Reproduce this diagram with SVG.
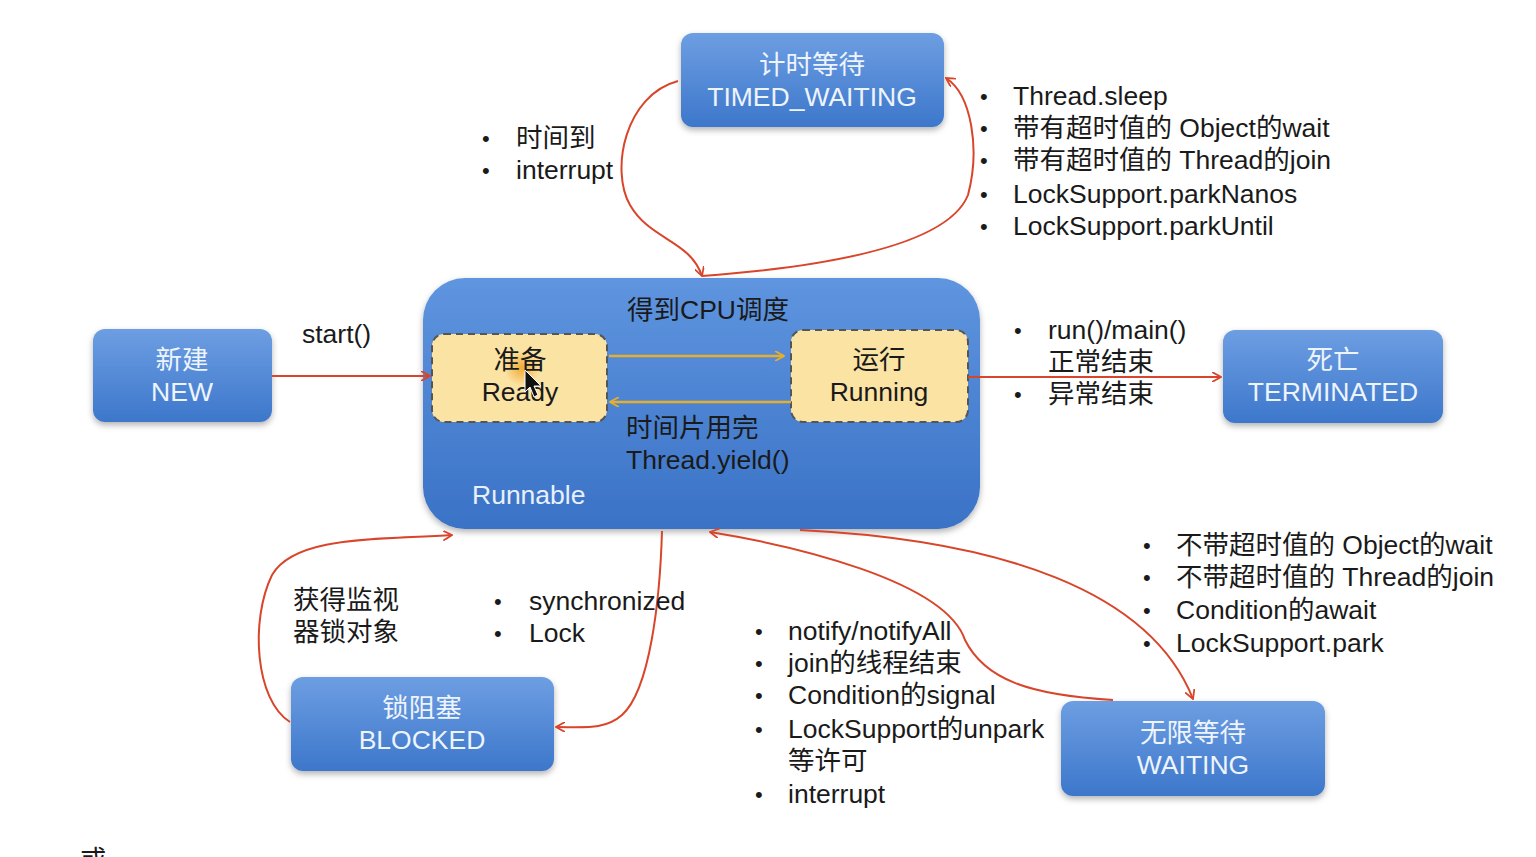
<svg xmlns="http://www.w3.org/2000/svg" width="1536" height="857" viewBox="0 0 1536 857">
<defs>
<linearGradient id="blueG" x1="0" y1="0" x2="0" y2="1">
<stop offset="0" stop-color="#6d9ee2"/>
<stop offset="1" stop-color="#3d77cb"/>
</linearGradient>
<linearGradient id="bigG" x1="0" y1="0" x2="0" y2="1">
<stop offset="0" stop-color="#5f95df"/>
<stop offset="1" stop-color="#3a72c6"/>
</linearGradient>
<filter id="sh" x="-10%" y="-10%" width="120%" height="130%">
<feDropShadow dx="0" dy="3" stdDeviation="3" flood-color="#000" flood-opacity="0.3"/>
</filter>
<radialGradient id="halo">
<stop offset="0" stop-color="#f0a020" stop-opacity="0.85"/>
<stop offset="1" stop-color="#f0a020" stop-opacity="0"/>
</radialGradient>
<marker id="ar" viewBox="0 0 10 10" refX="9" refY="5" markerWidth="10" markerHeight="10" markerUnits="userSpaceOnUse" orient="auto">
<path d="M0,0 L9,5 L0,10" fill="none" stroke="#d9452a" stroke-width="1.8"/>
</marker>
<marker id="ay" viewBox="0 0 10 10" refX="9" refY="5" markerWidth="10" markerHeight="10" markerUnits="userSpaceOnUse" orient="auto">
<path d="M0,0 L9,5 L0,10" fill="none" stroke="#e5ae2c" stroke-width="1.8"/>
</marker>
</defs>
<style>
text{font-family:"Liberation Sans","Noto Sans CJK SC",sans-serif;font-size:26.5px;fill:#1a1a1a}
.box{fill:url(#blueG);filter:url(#sh)}
.bt{fill:#eef4fc;text-anchor:middle}
.sub{fill:#fbe3a4;stroke:#555;stroke-width:2;stroke-dasharray:7 5}
.red{fill:none;stroke:#d9452a;stroke-width:2;marker-end:url(#ar)}
.yel{fill:none;stroke:#e5ae2c;stroke-width:2.5;marker-end:url(#ay)}
.b{font-size:22px}
</style>
<rect width="1536" height="857" fill="#ffffff"/>

<g id="runnable">
<rect x="423" y="278" width="557" height="251" rx="42" fill="url(#bigG)" filter="url(#sh)"/>
<text x="708" y="319" text-anchor="middle">得到CPU调度</text>
<text x="626" y="437">时间片用完</text>
<text x="626" y="469">Thread.yield()</text>
<text x="472" y="504" style="fill:#e8f0fb">Runnable</text>
</g>
<g id="ready">
<rect class="sub" x="432" y="334" width="175" height="88" rx="12"/>
<circle cx="522" cy="368" r="18" fill="url(#halo)"/>
<text x="520" y="369" text-anchor="middle">准备</text>
<text x="520" y="401" text-anchor="middle">Ready</text>
<path d="M525,370 L525,392 L530,387 L534,397 L538,395 L534,386 L541,386 Z" fill="#111" stroke="#fff" stroke-width="1"/>
</g>
<g id="running">
<rect class="sub" x="791" y="330" width="177" height="92" rx="12"/>
<text x="879" y="369" text-anchor="middle">运行</text>
<text x="879" y="401" text-anchor="middle">Running</text>
</g>
<g id="new">
<rect class="box" x="93" y="329" width="179" height="93" rx="12"/>
<text class="bt" x="182" y="369">新建</text>
<text class="bt" x="182" y="401">NEW</text>
</g>
<g id="timed_waiting">
<rect class="box" x="681" y="33" width="263" height="94" rx="12"/>
<text class="bt" x="812" y="74">计时等待</text>
<text class="bt" x="812" y="106">TIMED_WAITING</text>
</g>
<g id="terminated">
<rect class="box" x="1223" y="330" width="220" height="93" rx="12"/>
<text class="bt" x="1333" y="369">死亡</text>
<text class="bt" x="1333" y="401">TERMINATED</text>
</g>
<g id="blocked">
<rect class="box" x="291" y="677" width="263" height="94" rx="12"/>
<text class="bt" x="422" y="717">锁阻塞</text>
<text class="bt" x="422" y="749">BLOCKED</text>
</g>
<g id="waiting">
<rect class="box" x="1061" y="701" width="264" height="95" rx="12"/>
<text class="bt" x="1193" y="742">无限等待</text>
<text class="bt" x="1193" y="774">WAITING</text>
</g>

<g id="connectors">
<path class="yel" d="M609,356 L784,356"/>
<path class="yel" d="M791,402 L610,402"/>
<path class="red" d="M272,376 L430,376"/>
<path class="red" d="M968,377 L1221,377"/>
<path class="red" d="M678,81 C 625,95 610,170 630,205 C 650,240 690,240 702,276"/>
<path class="red" d="M702,276 C 850,265 950,240 968,195 C 980,150 972,95 946,78"/>
<path class="red" d="M290,722 C 255,700 250,620 272,575 C 295,535 380,540 452,535"/>
<path class="red" d="M662,531 C 660,600 650,690 622,715 C 605,730 585,727 556,727"/>
<path class="red" d="M1113,700 C 1030,695 985,680 965,640 C 945,580 790,545 710,532"/>
<path class="red" d="M800,530 C 1000,540 1150,590 1193,699"/>
</g>

<g id="labels">
<text x="302" y="343">start()</text>
<text class="b" x="482" y="146">•</text><text x="516" y="147">时间到</text>
<text class="b" x="482" y="178">•</text><text x="516" y="179">interrupt</text>

<text class="b" x="980" y="104">•</text><text x="1013" y="105">Thread.sleep</text>
<text class="b" x="980" y="136">•</text><text x="1013" y="137">带有超时值的 Object的wait</text>
<text class="b" x="980" y="168">•</text><text x="1013" y="169">带有超时值的 Thread的join</text>
<text class="b" x="980" y="202">•</text><text x="1013" y="203">LockSupport.parkNanos</text>
<text class="b" x="980" y="234">•</text><text x="1013" y="235">LockSupport.parkUntil</text>

<text class="b" x="1014" y="338">•</text><text x="1048" y="339">run()/main()</text>
<text x="1048" y="371">正常结束</text>
<text class="b" x="1014" y="402">•</text><text x="1048" y="403">异常结束</text>

<text x="293" y="609">获得监视</text>
<text x="293" y="641">器锁对象</text>
<text class="b" x="494" y="609">•</text><text x="529" y="610">synchronized</text>
<text class="b" x="494" y="641">•</text><text x="529" y="642">Lock</text>

<text class="b" x="755" y="639">•</text><text x="788" y="640">notify/notifyAll</text>
<text class="b" x="755" y="671">•</text><text x="788" y="672">join的线程结束</text>
<text class="b" x="755" y="703">•</text><text x="788" y="704">Condition的signal</text>
<text class="b" x="755" y="737">•</text><text x="788" y="738">LockSupport的unpark</text>
<text x="788" y="770">等许可</text>
<text class="b" x="755" y="802">•</text><text x="788" y="803">interrupt</text>

<text class="b" x="1143" y="553">•</text><text x="1176" y="554">不带超时值的 Object的wait</text>
<text class="b" x="1143" y="585">•</text><text x="1176" y="586">不带超时值的 Thread的join</text>
<text class="b" x="1143" y="618">•</text><text x="1176" y="619">Condition的await</text>
<text class="b" x="1143" y="651">•</text><text x="1176" y="652">LockSupport.park</text>

<text x="80" y="869">或</text>
</g>
</svg>
